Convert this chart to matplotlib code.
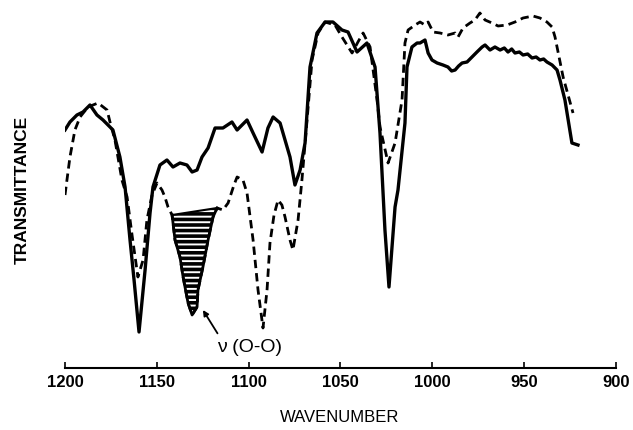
import matplotlib.pyplot as plt
import numpy as np

# wavenumber (cm-1) and transmittance (arbitrary units)
solid_wn = [1200, 1197.3, 1193.5, 1190.2, 1186.4, 1182.6, 1179.3, 1175.5, 1173.9, 1170.1,
            1167.3, 1164.6, 1162.4, 1159.7, 1156.4, 1153.7, 1152.1, 1148.3, 1144.5, 1141.2,
            1137.4, 1133.6, 1130.8, 1128.1, 1125.4, 1122.1, 1118.3, 1114.0, 1109.1, 1106.3,
            1100.9, 1097.6, 1092.7, 1089.5, 1086.7, 1082.9, 1077.5, 1074.8, 1072.0, 1069.3,
            1066.6, 1062.8, 1058.4, 1054.1, 1049.2, 1045.9, 1041.0, 1035.6, 1031.2, 1028.5,
            1025.8, 1023.6, 1020.3, 1018.7, 1014.9, 1013.8, 1011.1, 1008.3, 1006.7, 1004.0,
            1002.3, 1000.2, 997.4, 994.2, 991.5, 989.5, 987.6, 985.7, 983.8, 981.1,
            978.4, 975.7, 972.9, 971.3, 968.6, 965.9, 963.1, 960.8, 958.8, 956.8,
            955.0, 952.6, 950.6, 948.1, 945.7, 943.5, 941.4, 939.4, 937.6, 934.8,
            932.1, 930.5, 927.8, 924.0, 920.7]
solid_t = [238, 246, 253, 256, 263, 253, 248, 241, 238, 211,
           181, 128, 88, 36, 98, 155, 181, 203, 208, 201,
           205, 203, 196, 198, 211, 220, 240, 240, 246, 238,
           248, 235, 216, 240, 251, 245, 211, 183, 198, 225,
           301, 335, 346, 346, 338, 336, 316, 325, 301, 235,
           138, 81, 161, 178, 245, 301, 321, 325, 325, 328,
           315, 308, 305, 303, 301, 297, 298, 302, 305, 306,
           311, 316, 321, 323, 318, 321, 318, 320, 316, 319,
           315, 316, 313, 314, 310, 311, 308, 309, 306, 303,
           298, 288, 268, 225, 223]

dashed_wn = [1200, 1197.3, 1194.6, 1191.8, 1187.5, 1182.0, 1177.1, 1175.5, 1172.8, 1169.0,
             1166.2, 1163.5, 1160.3, 1157.5, 1155.4, 1152.6, 1149.9, 1147.2, 1145.6, 1143.9,
             1141.7, 1140.1, 1137.4, 1135.7, 1133.0, 1130.8, 1128.1, 1127.6, 1124.9, 1122.1,
             1119.4, 1117.2, 1114.0, 1111.2, 1108.0, 1106.3, 1103.1, 1100.9, 1097.6, 1094.9,
             1092.2, 1090.0, 1088.4, 1086.2, 1084.0, 1081.9, 1080.2, 1077.5, 1075.9, 1073.1,
             1071.0, 1068.2, 1065.5, 1062.2, 1058.4, 1053.0, 1049.2, 1043.7, 1040.5, 1037.7,
             1033.9, 1030.1, 1028.5, 1024.1, 1020.3, 1016.5, 1014.9, 1013.2, 1009.4, 1006.7,
             1004.0, 1002.3, 999.6, 995.8, 991.5, 987.6, 986.0, 983.3, 979.5, 976.8,
             974.1, 971.3, 967.5, 964.2, 959.3, 955.0, 950.6, 945.2, 941.4, 937.6,
             934.8, 933.2, 928.8, 923.4]
dashed_t = [173, 211, 238, 251, 261, 265, 258, 246, 228, 188,
            171, 133, 91, 108, 148, 173, 185, 178, 171, 161,
            153, 128, 111, 91, 65, 53, 61, 78, 101, 128,
            151, 160, 158, 165, 183, 191, 188, 175, 128, 78,
            40, 78, 125, 153, 168, 163, 151, 128, 118, 148,
            188, 248, 308, 335, 346, 343, 331, 315, 326, 335,
            321, 268, 241, 205, 225, 268, 325, 338, 343, 346,
            343, 346, 336, 335, 333, 335, 331, 340, 345, 348,
            355, 348, 345, 342, 343, 346, 350, 352, 350, 346,
            341, 331, 291, 255]

# baseline of the shaded O-O band
band_wn = [1141.7, 1117.2]
band_t = [153, 160]

xticks = [1200, 1150, 1100, 1050, 1000, 950, 900]

plt.rcParams['font.family'] = ['Liberation Sans', 'DejaVu Sans']
plt.rcParams['hatch.linewidth'] = 2.6
plt.rcParams['hatch.color'] = 'black'

fig = plt.figure(figsize=(6.33, 4.30), dpi=100)
ax = fig.add_axes([65/633, 62/430, 551/633, 363/430])

ax.plot(solid_wn, solid_t, color='black', linewidth=2.4, solid_joinstyle='round')
ax.plot(dashed_wn, dashed_t, color='black', linewidth=2.0, linestyle=(0, (3, 1.8)))

# hatched O-O band between the dashed trace and its baseline
wn_band = np.array([w for w in dashed_wn if band_wn[1] <= w <= band_wn[0]])
t_band = np.array([dashed_t[dashed_wn.index(w)] for w in wn_band])
base = np.interp(wn_band, band_wn[::-1], band_t[::-1])
ax.fill_between(wn_band, t_band, base, facecolor='white', edgecolor='black',
                hatch='---', linewidth=0)
ax.plot(wn_band, t_band, color='black', linewidth=2.0)
ax.plot(band_wn, band_t, color='black', linewidth=1.5)

ax.annotate('ν (O-O)', xy=(1124.9, 58), xytext=(1099.3, 21),
            ha='center', va='center', fontsize=14,
            arrowprops=dict(arrowstyle='-|>', color='black', lw=1.3,
                            mutation_scale=8, shrinkA=2, shrinkB=0,
                            relpos=(0.05, 1.0)))

ax.set_xlim(1200, 900)
ax.set_ylim(0, 363)
ax.set_xticks(xticks)
ax.set_xticklabels([str(v) for v in xticks], fontweight='bold', fontsize=12)
ax.set_yticks([])
for s in ['top', 'right', 'left']:
    ax.spines[s].set_visible(False)
ax.spines['bottom'].set_linewidth(1.5)
ax.tick_params(axis='x', direction='in', length=4, width=1.2, pad=5)

fig.text(340/633, 1 - 418/430, 'WAVENUMBER', ha='center', va='center', fontsize=12)
fig.text(22/633, 1 - 190/430, 'TRANSMITTANCE', ha='center', va='center',
         rotation=90, fontsize=12.5, fontweight='bold')

fig.savefig('out.png', dpi=100)
